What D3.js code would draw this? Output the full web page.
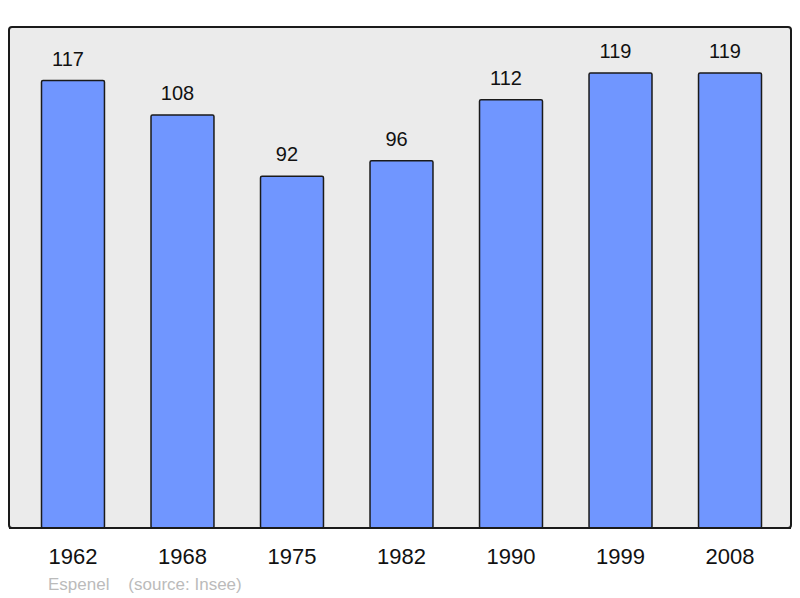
<!DOCTYPE html>
<html>
<head>
<meta charset="utf-8">
<script src="https://cdn.jsdelivr.net/npm/d3@7"></script>
<style>
    body { margin: 0; background: #fff; }
    text { font-family: "Liberation Sans", Arial, sans-serif; }
</style>
</head>
<body>
<div id="chart"></div>
<script>
const years = ["1962", "1968", "1975", "1982", "1990", "1999", "2008"]
const population = [117, 108, 92, 96, 112, 119, 119]
const credit = "Espenel    (source: Insee)"

const width = 800
const height = 598
const panel = { left: 9, top: 27, right: 791, bottom: 528 }

const svg = d3.select('#chart')
    .append('svg')
    .attr('width', width)
    .attr('height', height)

const x = d3.scaleBand()
    .domain(years)
    .range([41.5, 761.5])
    .paddingInner(0.425)
    .paddingOuter(0)

const y = d3.scaleLinear()
    .domain([0, 131])
    .range([panel.bottom, panel.top])

// grey background panel
svg.append('rect')
    .attr('x', panel.left)
    .attr('y', panel.top)
    .attr('width', panel.right - panel.left)
    .attr('height', panel.bottom - panel.top)
    .attr('rx', 3)
    .attr('fill', '#ebebeb')
    .attr('stroke', '#1a1a1a')
    .attr('stroke-width', 2)

const data = years.map((year, i) => ({ year: year, value: population[i] }))

svg.append('g').selectAll('rect')
    .data(data)
    .enter()
    .append('rect')
    .attr('x', d => x(d.year))
    .attr('y', d => y(d.value))
    .attr('width', x.bandwidth())
    .attr('height', d => y(0) - y(d.value))
    .attr('rx', 1.5)
    .attr('fill', '#7096ff')
    .attr('stroke', '#1a1a1a')
    .attr('stroke-width', 1.5)

// redraw the bottom edge so bars sit on the panel border
svg.append('line')
    .attr('x1', panel.left)
    .attr('x2', panel.right)
    .attr('y1', panel.bottom)
    .attr('y2', panel.bottom)
    .attr('stroke', '#1a1a1a')
    .attr('stroke-width', 2)

// value labels sit slightly left of the bar centre, as in the original
svg.append('g').selectAll('text')
    .data(data)
    .enter()
    .append('text')
    .attr('x', d => x(d.year) + x.bandwidth() / 2 - 5)
    .attr('y', d => y(d.value) - 15)
    .attr('text-anchor', 'middle')
    .attr('font-size', 20)
    .attr('fill', '#111')
    .text(d => d.value)

const xAxis = d3.axisBottom(x).tickSize(0).tickPadding(0)
const axisG = svg.append('g')
    .attr('transform', `translate(0, 564)`)
    .call(xAxis)
axisG.select('.domain').remove()
axisG.selectAll('text')
    .attr('dy', 0)
    .attr('font-size', 22)
    .attr('font-family', '"Liberation Sans", Arial, sans-serif')
    .attr('fill', '#111')

svg.append('text')
    .attr('x', 48)
    .attr('y', 590)
    .attr('font-size', 17)
    .attr('fill', '#bbb')
    .attr('xml:space', 'preserve')
    .style('white-space', 'pre')
    .text(credit)
</script>
</body>
</html>
